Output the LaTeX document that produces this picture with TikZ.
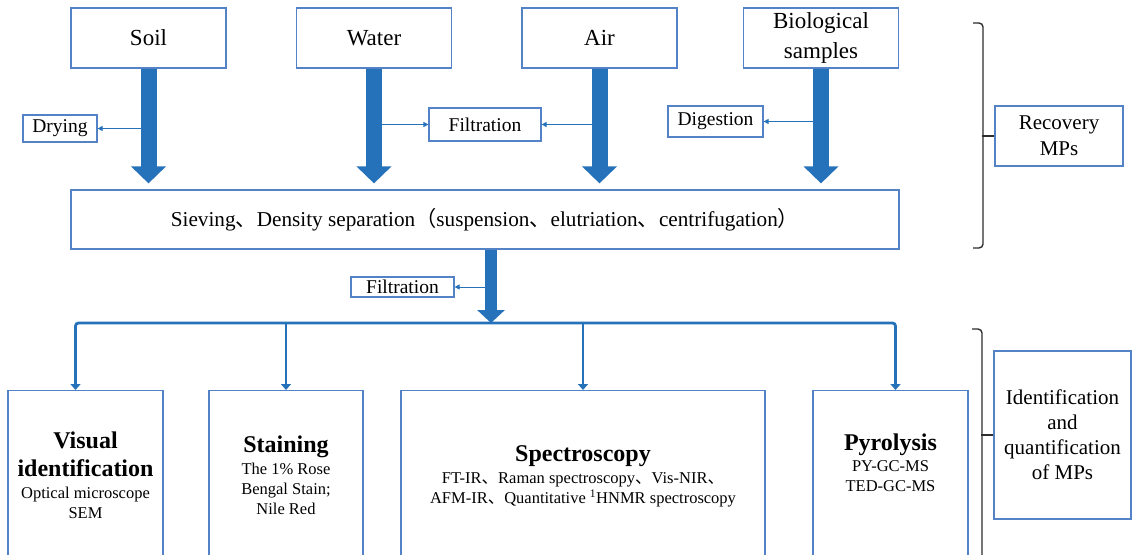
\documentclass[tikz,border=0pt]{standalone}
\usepackage{fontspec}
\setmainfont{Liberation Serif}
\newfontfamily\cjkfont{Noto Sans CJK SC}
\usetikzlibrary{arrows.meta,positioning}

\definecolor{boxblue}{RGB}{84,130,198}
\definecolor{flowblue}{RGB}{38,114,186}
\definecolor{bracegray}{RGB}{45,45,45}
\newcommand{\dun}{{\cjkfont 、}}
\newcommand{\cjkl}{{\cjkfont （}}
\newcommand{\cjkr}{{\cjkfont ）}}
\newcommand{\fs}[2]{\fontsize{#1}{#2}\selectfont}

\begin{document}
\begin{tikzpicture}[x=1pt,y=-1pt,inner sep=0pt,
  box/.style={draw=boxblue,line width=1.2pt,fill=white,align=center},
  srcbox/.style={box,minimum width=155,minimum height=60,font=\fs{23}{30}},
  sidebox/.style={box,font=\fs{19.5}{22}},
  outbox/.style={box,anchor=north,minimum height=180},
  headtxt/.style={anchor=north,align=center,font=\fs{24}{28}\bfseries},
  bodytxt/.style={anchor=north,align=center,font=\fs{16.5}{20}},
  bigarrow/.style={flowblue,line width=16pt,-{Triangle[width=34pt,length=17pt]}},
  splitarrow/.style={flowblue,line width=12pt,-{Triangle[width=27pt,length=13pt]}},
  sidearrow/.style={flowblue,line width=0.9pt,-{Triangle[width=5pt,length=5pt]}},
  dist/.style={flowblue,line width=2.8pt},
  brace/.style={bracegray,line width=1.4pt,rounded corners=4pt}]
  \tikzstyle{disttip}=[-{Triangle[width=10pt,length=6pt]}]

  \useasboundingbox (0,0) rectangle (1132,554);

  % sample sources
  \node[srcbox] (soil)  at (148.5,38) {Soil};
  \node[srcbox] (water) at (374,38)   {Water};
  \node[srcbox] (air)   at (599.5,38) {Air};
  \node[srcbox] (bio)   at (821,38)   {Biological\\samples};

  \node[box,minimum width=828,minimum height=59,font=\fs{21.2}{24}] (sieve) at (485,219.5)
    {Sieving\dun Density separation\cjkl suspension\dun elutriation\dun centrifugation\cjkr};

  % pretreatment steps
  \node[sidebox,minimum width=74,minimum height=27]  (dry)   at (60,128.5)    {Drying};
  \node[sidebox,minimum width=112,minimum height=33] (filt)  at (485,124.5)   {Filtration};
  \node[sidebox,minimum width=95,minimum height=31]  (dig)   at (715.5,121.5) {Digestion};
  \node[sidebox,minimum width=103,minimum height=20] (filt2) at (402.5,287)   {Filtration};

  \node[box,minimum width=128,minimum height=60,font=\fs{21}{26}] (recov) at (1059,136) {Recovery\\MPs};

  % identification methods
  \node[outbox,minimum width=155] (vis)   at (85.5,390)  {};
  \node[outbox,minimum width=154] (stain) at (286,390)   {};
  \node[outbox,minimum width=364] (spec)  at (583,390)   {};
  \node[outbox,minimum width=155] (pyro)  at (890.5,390) {};

  \node[headtxt] (vishead) at ([yshift=-41.6pt]vis.north) {Visual\\identification};
  \node[bodytxt] (visbody) at ([yshift=-96.7pt]vis.north) {Optical microscope\\SEM};
  \node[headtxt] (stainhead) at ([yshift=-45.6pt]stain.north) {Staining};
  \node[bodytxt] (stainbody) at ([yshift=-72.7pt]stain.north) {The 1\% Rose\\Bengal Stain;\\Nile Red};
  \node[headtxt] (spechead) at ([yshift=-55.6pt]spec.north) {Spectroscopy};
  \node[bodytxt] (specbody) at ([yshift=-82.7pt]spec.north)
    {FT-IR\dun Raman spectroscopy\dun Vis-NIR\dun\\AFM-IR\dun Quantitative \textsuperscript{1}HNMR spectroscopy};
  \node[headtxt] (pyrohead) at ([yshift=-43.6pt]pyro.north) {Pyrolysis};
  \node[bodytxt] (pyrobody) at ([yshift=-70.7pt]pyro.north) {PY-GC-MS\\TED-GC-MS};

  \node[box,minimum width=137,minimum height=168,font=\fs{21}{25}] (ident) at (1062.5,435)
    {Identification\\and\\quantification\\of MPs};

  % connectors
  \draw[sidearrow] (soil.south |- dry.east) -- (dry.east);
  \draw[sidearrow] (water.south |- filt.west) -- (filt.west);
  \draw[sidearrow] (air.south |- filt.east) -- (filt.east);
  \draw[sidearrow] (bio.south |- dig.east) -- (dig.east);
  \foreach \s in {soil,water,air,bio}
    \draw[bigarrow,shorten >=6pt] (\s.south) -- (\s.south |- sieve.north);

  \coordinate (split) at (491,323);
  \coordinate (lft)   at (75.5,323);
  \coordinate (rgt)   at (895.5,323);
  \draw[sidearrow] (split |- filt2.east) -- (filt2.east);
  \draw[dist,rounded corners=3pt,{Triangle[width=10pt,length=6pt]}-{Triangle[width=10pt,length=6pt]}]
    (lft |- vis.north) -- (lft) -- (rgt) -- (rgt |- pyro.north);
  \draw[dist,disttip] (stain.north |- lft) -- (stain.north);
  \draw[dist,disttip] (spec.north |- lft) -- (spec.north);
  \draw[splitarrow] (split |- sieve.south) -- (split);

  % braces
  \draw[brace] (973,23) -- (983,23) -- (983,248) -- (973,248);
  \draw[brace] (recov.west) -- ++(-12,0);
  \draw[brace] (972,329) -- (982,329) -- (982,580);
  \draw[brace] (ident.west) -- ++(-12,0);
\end{tikzpicture}
\end{document}
